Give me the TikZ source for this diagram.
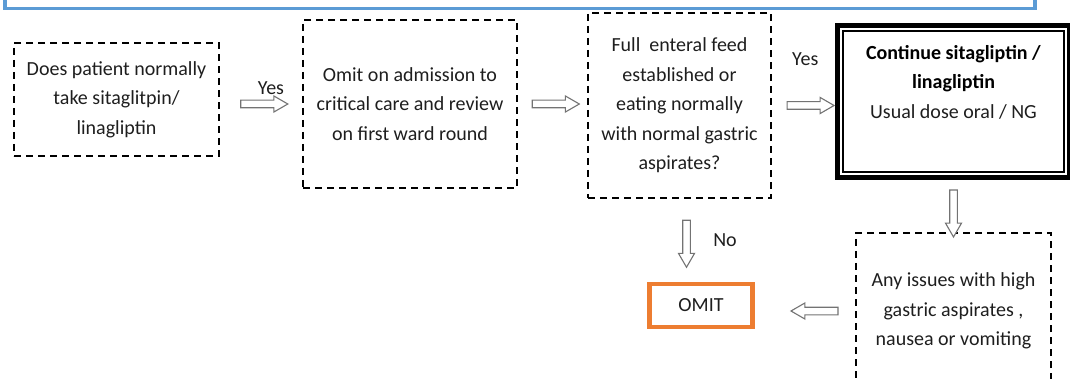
\documentclass[tikz,border=0pt]{standalone}
\usepackage{fontspec}
\setmainfont{Carlito}
\usepackage{tikz}
\usetikzlibrary{shapes.geometric, shapes.arrows, calc}
\definecolor{txtgray}{RGB}{30,30,30}
\definecolor{barblue}{RGB}{91,155,213}
\definecolor{omitorange}{RGB}{237,125,49}
\tikzstyle{dashbox} = [rectangle, draw=black, line width=2.4pt, dash pattern=on 7pt off 5pt, inner sep=0pt, align=center, text=txtgray]
\tikzstyle{contbox} = [rectangle, draw=black, line width=1.3pt, inner sep=0pt, minimum width=221pt, minimum height=141pt, text=black]
\tikzstyle{omitbox} = [rectangle, draw=omitorange, line width=4.5pt, minimum width=103pt, minimum height=43pt, text=txtgray]
\tikzstyle{blockarrow} = [single arrow, draw=black!55, fill=white, line width=1.1pt, minimum height=47pt, inner sep=3.25pt, single arrow head extend=4.25pt, single arrow tip angle=60, single arrow head indent=0pt]
\tikzstyle{lab} = [text=txtgray]

\begin{document}
\begin{tikzpicture}[x=1pt, y=-1pt, font=\fontsize{20}{29.5}\selectfont]

\useasboundingbox (0,0) rectangle (1070,379);
\clip (0,0) rectangle (1070,379);
\draw[barblue, line width=3.5pt] (5,-30) rectangle (1035,8.3);

\node (ask) [dashbox, minimum width=205pt, minimum height=113pt] at (116.5,99.5) {Does patient normally\\take sitaglitpin/\\linagliptin};
\node (omitcc) [dashbox, minimum width=214pt, minimum height=168pt] at (410,104) {Omit on admission to\\critical care and review\\on first ward round};
\node (feed) [dashbox, minimum width=183pt, minimum height=185pt] at (679.5,105.5) {Full~ enteral feed\\established or\\eating normally\\with normal gastric\\aspirates?};
\node (cont) [contbox] at (953.5,101.5) {\parbox[c][141pt][t]{221pt}{\centering\vspace*{14pt}\textbf{Continue sitagliptin /}\\\textbf{linagliptin}\\{\color{txtgray}Usual dose oral / NG}}};
\node (omit) [omitbox] at (701,305.5) {OMIT};
\node (issues) [dashbox, minimum width=195pt, minimum height=156pt] at (953.5,311) {Any issues with high\\gastric aspirates ,\\nausea or vomiting};

\draw [line width=5pt] ($(cont.north west)+(-5,-5)$) rectangle ($(cont.south east)+(5,5)$);

\path (omitcc.west -| ask.east) -- node[blockarrow] (arr1) {} node[lab, xshift=10pt, yshift=16pt] (yes1) {Yes} (omitcc.west);
\path (omitcc.east) -- node[blockarrow] (arr2) {} (omitcc.east -| feed.west);
\path (feed.east) -- node[blockarrow] (arr3) {} node[lab, xshift=-2pt, yshift=46.5pt] (yes2) {Yes} (feed.east -| cont.west);
\path (feed.south) -- node[blockarrow, shape border rotate=270, xshift=7pt] (arr4) {} node[lab, xshift=45.5pt] (no1) {No} (feed.south |- omit.north);
\path (cont.south) -- node[blockarrow, shape border rotate=270, yshift=-8pt] (arr5) {} (cont.south |- issues.north);
\path (issues.west) -- node[blockarrow, shape border rotate=180, xshift=13pt] (arr6) {} (issues.west -| omit.east);
%\draw [arrow] (omit) -- (issues);
\end{tikzpicture}
\end{document}
